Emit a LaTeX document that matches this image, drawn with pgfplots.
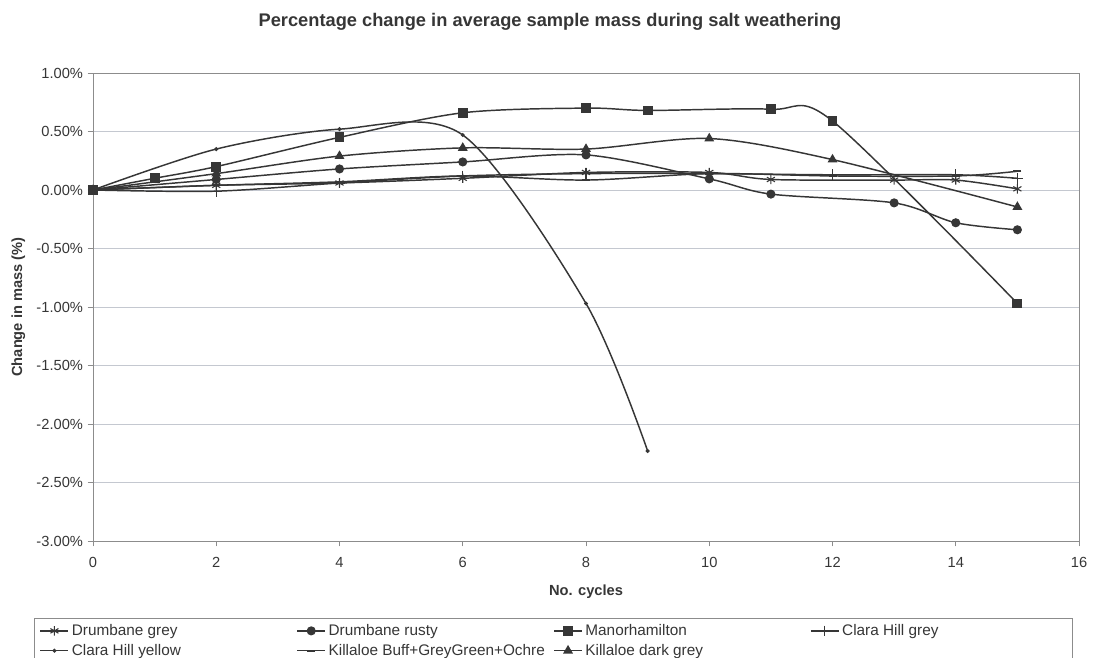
\documentclass[border=0pt]{standalone}
\usepackage{fontspec}
\setmainfont{Liberation Sans}
\usepackage{pgfplots}
\pgfplotsset{compat=1.18}
\definecolor{ln}{HTML}{363636}
\definecolor{gridc}{HTML}{C4C8D0}
\definecolor{frm}{HTML}{8C8C8C}
\newcommand{\lgbox}[1]{\makebox[166.5pt][l]{#1}}
\begin{document}
\begin{tikzpicture}
\clip (0,0) rectangle (821.25pt,-492.75pt);
\path[use as bounding box] (0,0) rectangle (821.25pt,-492.75pt);
\node[font=\bfseries\fontsize{13.7}{15}\selectfont, text=ln] at (412.5pt,-16pt) {Percentage change in average sample mass during salt weathering};
\begin{axis}[
  at={(69.75pt,-54.75pt)}, anchor=north west,
  scale only axis, width=739.5pt, height=351pt,
  xmin=0, xmax=16, ymin=-3, ymax=1,
  xtick={0,2,...,16}, ytick={-3,-2.5,...,1},
  /pgf/number format/assume math mode=true,
  yticklabel={\pgfmathprintnumber[fixed,fixed zerofill,precision=2]{\tick}\%},
  ticklabel style={font=\fontsize{11}{13}\selectfont, text=ln},
  xticklabel style={/pgf/number format/fixed, yshift=-5pt},
  tick align=outside, tick pos=left,
  major tick length=4pt,
  tick style={frm, line width=0.6pt},
  axis line style={frm, line width=0.6pt},
  ymajorgrids, grid style={gridc, line width=0.6pt},
  xlabel={\bfseries No. cycles}, ylabel={\bfseries Change in mass (\%)},
  label style={font=\fontsize{11}{13}\selectfont, text=ln},
  xlabel style={yshift=-6pt},
  ylabel style={yshift=1.5pt},
  every axis plot/.append style={ln, line width=1.1pt, smooth, tension=0.5, mark options={solid, fill=ln, draw=ln, line width=0.8pt}},
  legend columns=4,
  legend cell align=left,
  legend style={at={(-0.0598,-0.1645)}, anchor=north west, draw=frm, line width=0.5pt,
     font=\fontsize{11.5}{13}\selectfont, text=ln, inner xsep=4pt, inner ysep=2.5pt, row sep=1pt},
  legend image code/.code={\draw[mark indices={2}] plot coordinates {(0pt,0pt) (10.5pt,0pt) (21pt,0pt)};},
]
\addplot[mark=asterisk, mark size=3.5pt] coordinates {(0,0) (2,0.04) (4,0.06) (6,0.10) (8,0.15) (10,0.15) (11,0.09) (13,0.085) (14,0.085) (15,0.01)};
\addlegendentry{\lgbox{Drumbane grey}}
\addplot[mark=*, mark size=3pt] coordinates {(0,0) (2,0.09) (4,0.18) (6,0.24) (8,0.30) (10,0.095) (11,-0.035) (13,-0.11) (14,-0.28) (15,-0.34)};
\addlegendentry{\lgbox{Drumbane rusty}}
\addplot[mark=square*, mark size=3.3pt] coordinates {(0,0) (1,0.10) (2,0.20) (4,0.45) (6,0.66) (8,0.70) (9,0.68) (11,0.69) (12,0.59) (15,-0.97)};
\addlegendentry{\lgbox{Manorhamilton}}
\addplot[mark=+, mark size=4pt] coordinates {(0,0) (2,-0.01) (4,0.06) (6,0.12) (8,0.14) (10,0.14) (12,0.13) (14,0.13) (15,0.10)};
\addlegendentry{\lgbox{Clara Hill grey}}
\addplot[mark=*, mark size=1.1pt] coordinates {(0,0) (2,0.35) (4,0.52) (6,0.47) (8,-0.97) (9,-2.23)};
\addlegendentry{\lgbox{Clara Hill yellow}}
\addplot[mark=-, mark size=3pt, mark options={line width=1.6pt}] coordinates {(0,0) (2,0.04) (4,0.07) (6,0.12) (8,0.085) (10,0.14) (12,0.12) (14,0.12) (15,0.16)};
\addlegendentry{\lgbox{Killaloe Buff+GreyGreen+Ochre}}
\addplot[mark=triangle*, mark size=3.5pt] coordinates {(0,0) (2,0.14) (4,0.29) (6,0.36) (8,0.35) (10,0.44) (12,0.26) (15,-0.145)};
\addlegendentry{\lgbox{Killaloe dark grey}}
\end{axis}
\end{tikzpicture}
\end{document}
